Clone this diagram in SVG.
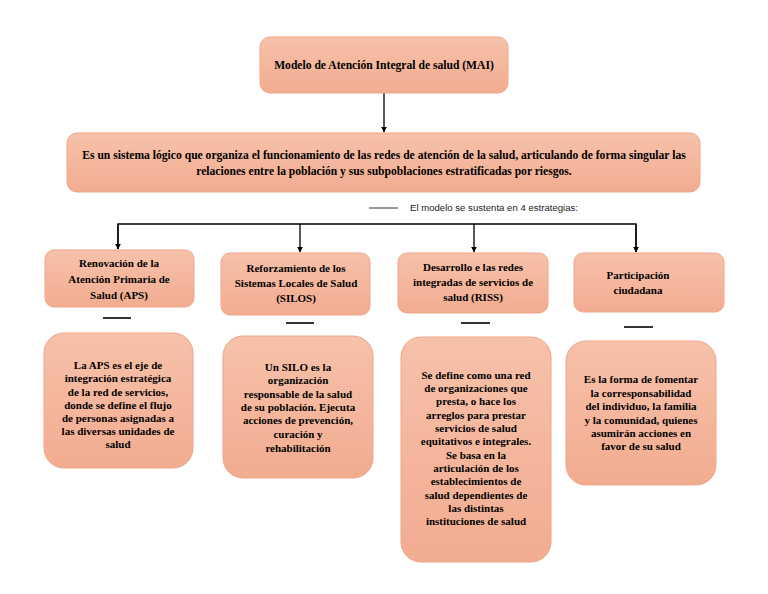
<svg xmlns="http://www.w3.org/2000/svg" width="768" height="594" viewBox="0 0 768 594">
<defs>
<linearGradient id="g" x1="0" y1="0" x2="0" y2="1">
<stop offset="0" stop-color="#F7C1AA"/>
<stop offset="1" stop-color="#F2AC90"/>
</linearGradient>
<marker id="ah" viewBox="0 0 10 10" refX="9" refY="5" markerWidth="6" markerHeight="6" markerUnits="userSpaceOnUse" orient="auto">
<path d="M0,0 L10,5 L0,10 z" fill="#000"/>
</marker>
</defs>
<style>
.box{fill:url(#g);stroke:#EDA68A;stroke-width:1}
.t{font-family:"Liberation Serif","Times New Roman",serif;font-weight:bold;font-size:11px;fill:#000;text-anchor:middle}
.big{font-size:11.6px}
.c{stroke:#000;stroke-width:1.3;fill:none}
.dash{stroke:#000;stroke-width:1.6}
.leg{font-family:"Liberation Sans",Arial,sans-serif;font-size:9.6px;fill:#222}
</style>
<rect width="768" height="594" fill="#fff"/>

<g id="connectors">
<line class="c" x1="384" y1="93" x2="384" y2="132" marker-end="url(#ah)"/>
<polyline class="c" points="118,249 118,224 636,224 636,252" />
<line class="c" x1="118" y1="224" x2="118" y2="249" marker-end="url(#ah)"/>
<line class="c" x1="300" y1="224" x2="300" y2="252" marker-end="url(#ah)"/>
<line class="c" x1="474" y1="224" x2="474" y2="252" marker-end="url(#ah)"/>
<line class="c" x1="636" y1="224" x2="636" y2="252" marker-end="url(#ah)"/>
</g>

<g id="legend">
<line x1="369" y1="208" x2="398" y2="208" stroke="#333" stroke-width="1"/>
<text class="leg" x="410" y="211">El modelo se sustenta en 4 estrategias:</text>
</g>

<g id="mai">
<rect class="box" x="260" y="37" width="248" height="56" rx="10"/>
<text class="t big" x="384" y="69">Modelo de Atención Integral de salud (MAI)</text>
</g>

<g id="definicion">
<rect class="box" x="67" y="133" width="633" height="59" rx="10"/>
<text class="t big" x="384" y="159">Es un sistema lógico que organiza el funcionamiento de las redes de atención de la salud, articulando de forma singular las</text>
<text class="t big" x="384" y="175">relaciones entre la población y sus subpoblaciones estratificadas por riesgos.</text>
</g>

<g id="aps">
<rect class="box" x="45" y="250" width="149" height="57" rx="9"/>
<text class="t" x="119" y="267">Renovación de la</text>
<text class="t" x="119" y="283">Atención Primaria de</text>
<text class="t" x="119" y="299">Salud (APS)</text>
</g>

<g id="silos">
<rect class="box" x="221" y="253" width="149" height="62" rx="9"/>
<text class="t" x="296" y="272">Reforzamiento de los</text>
<text class="t" x="296" y="287">Sistemas Locales de Salud</text>
<text class="t" x="296" y="302">(SILOS)</text>
</g>

<g id="riss">
<rect class="box" x="398" y="253" width="150" height="60" rx="9"/>
<text class="t" x="473" y="271">Desarrollo e las redes</text>
<text class="t" x="473" y="286">integradas de servicios de</text>
<text class="t" x="473" y="301">salud (RISS)</text>
</g>

<g id="participacion">
<rect class="box" x="574" y="253" width="150" height="59" rx="9"/>
<text class="t" x="638" y="279">Participación</text>
<text class="t" x="638" y="294">ciudadana</text>
</g>

<g id="separators">
<line class="dash" x1="103" y1="318" x2="131" y2="318" stroke="#444"/>
<line class="dash" x1="286" y1="323" x2="314" y2="323"/>
<line class="dash" x1="461" y1="323" x2="490" y2="323"/>
<line class="dash" x1="624" y1="327" x2="653" y2="327"/>
</g>

<g id="aps-desc">
<rect class="box" x="44" y="333" width="149" height="135" rx="20"/>
<text class="t" x="118" y="369">La APS es el eje de</text>
<text class="t" x="118" y="382">integración estratégica</text>
<text class="t" x="118" y="396">de la red de servicios,</text>
<text class="t" x="118" y="409">donde se define el flujo</text>
<text class="t" x="118" y="422">de personas asignadas a</text>
<text class="t" x="118" y="435">las diversas unidades de</text>
<text class="t" x="118" y="448">salud</text>
</g>

<g id="silos-desc">
<rect class="box" x="223" y="336" width="150" height="142" rx="20"/>
<text class="t" x="298" y="371">Un SILO es la</text>
<text class="t" x="298" y="384">organización</text>
<text class="t" x="298" y="398">responsable de la salud</text>
<text class="t" x="298" y="411">de su población. Ejecuta</text>
<text class="t" x="298" y="424">acciones de prevención,</text>
<text class="t" x="298" y="438">curación y</text>
<text class="t" x="298" y="452">rehabilitación</text>
</g>

<g id="riss-desc">
<rect class="box" x="401" y="337" width="150" height="225" rx="20"/>
<text class="t" x="476" y="379">Se define como una red</text>
<text class="t" x="476" y="392">de organizaciones que</text>
<text class="t" x="476" y="405">presta, o hace los</text>
<text class="t" x="476" y="419">arreglos para prestar</text>
<text class="t" x="476" y="432">servicios de salud</text>
<text class="t" x="476" y="445">equitativos e integrales.</text>
<text class="t" x="476" y="459">Se basa en la</text>
<text class="t" x="476" y="472">articulación de los</text>
<text class="t" x="476" y="485">establecimientos de</text>
<text class="t" x="476" y="499">salud dependientes de</text>
<text class="t" x="476" y="512">las distintas</text>
<text class="t" x="476" y="525">instituciones de salud</text>
</g>

<g id="participacion-desc">
<rect class="box" x="566" y="341" width="150" height="144" rx="20"/>
<text class="t" x="641" y="383">Es la forma de fomentar</text>
<text class="t" x="641" y="397">la corresponsabilidad</text>
<text class="t" x="641" y="410">del individuo, la familia</text>
<text class="t" x="641" y="424">y la comunidad, quienes</text>
<text class="t" x="641" y="437">asumirán acciones en</text>
<text class="t" x="641" y="450">favor de su salud</text>
</g>
</svg>
